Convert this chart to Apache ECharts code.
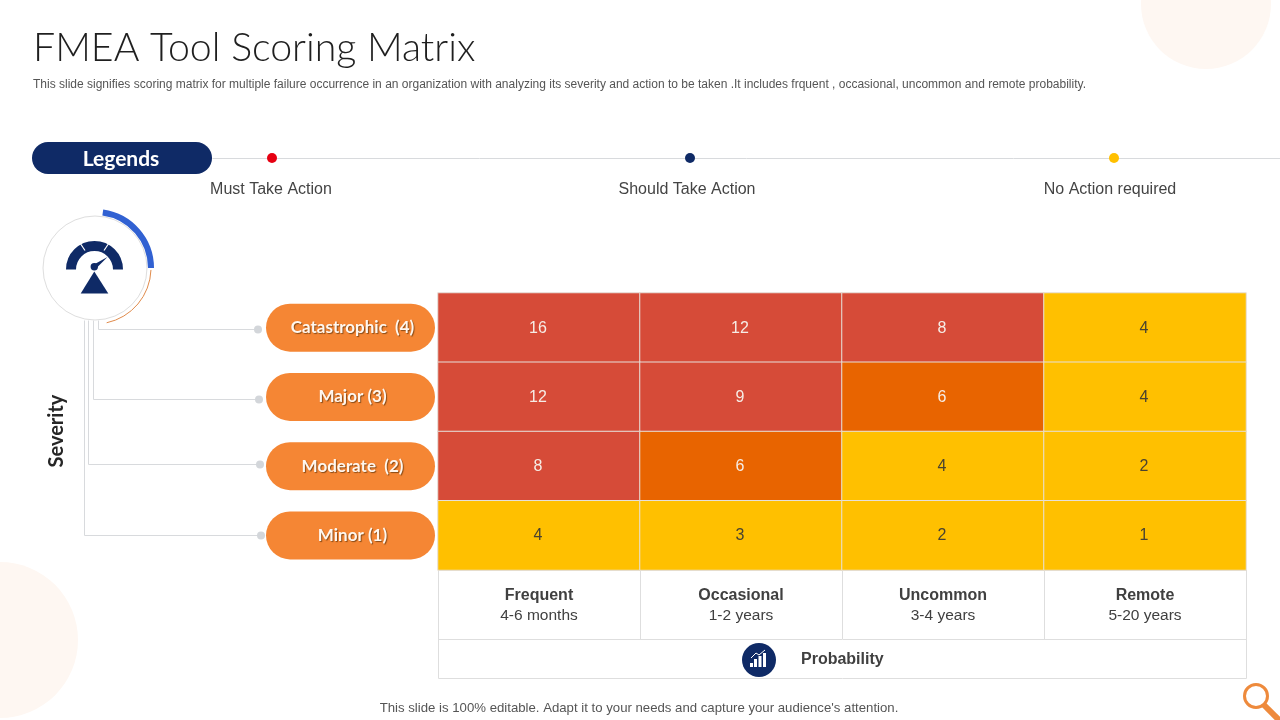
<!DOCTYPE html>
<html>
<head>
<meta charset="utf-8">
<title>FMEA Tool Scoring Matrix</title>
<style>
  html, body { margin: 0; padding: 0; background: #fff; }
  #chart { width: 1280px; height: 720px; }
</style>
<script src="https://cdn.jsdelivr.net/npm/echarts@6/dist/echarts.min.js"></script>
</head>
<body>
<div id="chart"></div>
<script>
// 数据
var severityLabels = ['Catastrophic  (4)', 'Major (3)', 'Moderate  (2)', 'Minor (1)'];
var probabilityLabels = ['Frequent', 'Occasional', 'Uncommon', 'Remote'];
var probabilityRanges = ['4-6 months', '1-2 years', '3-4 years', '5-20 years'];
var scoresCatastrophic = [16, 12, 8, 4];
var scoresMajor = [12, 9, 6, 4];
var scoresModerate = [8, 6, 4, 2];
var scoresMinor = [4, 3, 2, 1];
var legendLabels = ['Must Take Action', 'Should Take Action', 'No Action required'];

var navy = '#0F2A66';
var orange = '#F58634';
var lineColor = '#D8DADD';
var bodyFont = '"Liberation Sans", Arial, sans-serif';
var headFont = 'Lato, "Open Sans", sans-serif';

var cells = [];
[scoresCatastrophic, scoresMajor, scoresModerate, scoresMinor].forEach(function (row, y) {
    row.forEach(function (v, x) {
        cells.push({
            value: [x, y, v],
            label: { color: v > 4 ? '#F6EDE6' : '#4A4330' }
        });
    });
});

// 装饰图形
function line(x1, y1, x2, y2, color) {
    return { type: 'line', shape: { x1: x1 + 0.5, y1: y1 + 0.5, x2: x2 + 0.5, y2: y2 + 0.5 }, style: { stroke: color || lineColor, lineWidth: 1 } };
}
function dot(x, y, r, color) {
    return { type: 'circle', shape: { cx: x, cy: y, r: r }, style: { fill: color } };
}
function text(x, y, str, font, color, align) {
    return { type: 'text', x: x, y: y, style: { text: str, font: font, fill: color, align: align || 'center', verticalAlign: 'middle' } };
}
function arc(r, start, end, color, width) {
    return {
        type: 'arc',
        shape: { cx: 95, cy: 268, r: r, startAngle: start * Math.PI / 180, endAngle: end * Math.PI / 180 },
        style: { stroke: color, lineWidth: width, fill: null }
    };
}
function bar(x, top) {
    return { type: 'rect', shape: { x: x, y: top, width: 3, height: 667 - top }, style: { fill: '#fff' } };
}

var graphics = [
    // 背景圆
    dot(1206, 4, 65, '#FEF7F2'),
    dot(0, 640, 78, '#FEF7F2'),

    // 图例
    line(212, 158, 1280, 158),
    { type: 'rect', shape: { x: 32, y: 142, width: 180, height: 32, r: 16 }, style: { fill: navy } },
    text(121, 159, 'Legends', 'bold 21px ' + headFont, '#fff'),
    dot(272, 158, 5, '#E60012'),
    dot(690, 158, 5, navy),
    dot(1114, 158, 5, '#FFC000'),
    text(271, 190, legendLabels[0], '16px ' + bodyFont, '#444'),
    text(687, 190, legendLabels[1], '16px ' + bodyFont, '#444'),
    text(1110, 190, legendLabels[2], '16px ' + bodyFont, '#444'),

    // 连接线
    line(84, 320, 84, 535), line(84, 535, 261, 535),
    line(88, 320, 88, 464), line(88, 464, 260, 464),
    line(93, 320, 93, 399), line(93, 399, 259, 399),
    line(98, 320, 98, 329), line(98, 329, 258, 329),
    dot(258, 329.5, 4, '#D3D6DA'), dot(259, 399.5, 4, '#D3D6DA'),
    dot(260, 464.5, 4, '#D3D6DA'), dot(261, 535.5, 4, '#D3D6DA'),

    // 仪表图标
    { type: 'circle', shape: { cx: 95, cy: 268, r: 52 }, style: { fill: '#fff', stroke: '#DEDEDE', lineWidth: 1 } },
    arc(56, -82, 0, '#3161D2', 6),
    arc(56, 2, 78, '#E08B4C', 1),
    {
        type: 'arc',
        shape: { cx: 94.5, cy: 269.5, r: 23.5, startAngle: Math.PI, endAngle: Math.PI * 2 },
        style: { stroke: navy, lineWidth: 10, fill: null }
    },
    { type: 'line', shape: { x1: 80, y1: 243, x2: 85, y2: 250.5 }, style: { stroke: '#fff', lineWidth: 1.2 } },
    { type: 'line', shape: { x1: 109, y1: 243, x2: 104, y2: 250.5 }, style: { stroke: '#fff', lineWidth: 1.2 } },
    { type: 'polygon', shape: { points: [[94.3, 271.5], [80.7, 293.5], [108.3, 293.5]] }, style: { fill: navy } },
    { type: 'polygon', shape: { points: [[93, 265], [107.5, 257], [96, 268.5]] }, style: { fill: navy } },
    dot(94.3, 266.7, 3.7, navy),

    // Severity
    {
        type: 'text', x: 57, y: 431, rotation: Math.PI / 2,
        style: { text: 'Severity', font: 'bold 20px ' + headFont, fill: '#262626', align: 'center', verticalAlign: 'middle' }
    },

    // Probability 行
    { type: 'rect', z: -1, shape: { x: 438.5, y: 570.5, width: 808, height: 108 }, style: { fill: '#fff', stroke: '#DEDEDE', lineWidth: 1 } },
    line(438, 639, 1246, 639, '#DEDEDE'),
    dot(759, 660, 17, navy),
    bar(750, 663), bar(754, 659), bar(758.5, 656), bar(763, 653),
    { type: 'polyline', shape: { points: [[751, 658], [756, 653], [759, 655], [765, 650]] }, style: { stroke: '#fff', lineWidth: 1, fill: null } },
    text(801, 660, 'Probability', 'bold 16px ' + bodyFont, '#404040', 'left'),

    // 页脚
    text(639, 708, "This slide is 100% editable. Adapt it to your needs and capture your audience's attention.", '13.2px ' + bodyFont, '#555'),
    { type: 'circle', shape: { cx: 1256, cy: 696, r: 11.5 }, style: { fill: 'none', stroke: '#EE8A3C', lineWidth: 3 } },
    { type: 'line', shape: { x1: 1264, y1: 705, x2: 1282, y2: 723 }, style: { stroke: '#EE8A3C', lineWidth: 6 } }
];

var myChart = echarts.init(document.getElementById('chart'));
var option = {
    animation: false,
    backgroundColor: '#fff',
    title: {
        text: 'FMEA Tool Scoring Matrix',
        left: 28,
        top: 24,
        textStyle: { fontFamily: headFont, fontSize: 39.3, fontWeight: 300, color: '#1f1f1f' },
        subtext: 'This slide signifies scoring matrix for multiple failure occurrence in an organization with analyzing its severity and action to be taken .It includes frquent , occasional, uncommon and remote probability.',
        subtextStyle: { fontFamily: bodyFont, fontSize: 12, color: '#555' },
        itemGap: 11
    },
    grid: { left: 438, top: 293, width: 808, height: 277 },
    xAxis: {
        type: 'category',
        data: probabilityLabels,
        position: 'bottom',
        axisLine: { show: false },
        axisTick: { show: true, length: 69, lineStyle: { color: '#DEDEDE' } },
        splitArea: { show: false },
        axisLabel: {
            margin: 16,
            lineHeight: 20,
            formatter: function (v, i) {
                return '{name|' + v + '}\n{range|' + probabilityRanges[i] + '}';
            },
            rich: {
                name: { fontFamily: bodyFont, fontSize: 16, fontWeight: 'bold', color: '#404040', lineHeight: 20 },
                range: { fontFamily: bodyFont, fontSize: 15.5, color: '#404040', lineHeight: 20 }
            }
        }
    },
    yAxis: {
        type: 'category',
        data: severityLabels,
        inverse: true,
        axisLine: { show: false },
        axisTick: { show: false },
        axisLabel: {
            margin: 3,
            formatter: '{pill|{value}}',
            rich: {
                pill: {
                    width: 165,
                    height: 48,
                    padding: [0, 0, 0, 4],
                    align: 'center',
                    backgroundColor: orange,
                    borderRadius: 24,
                    fontFamily: headFont,
                    fontSize: 17,
                    fontWeight: 'bold',
                    color: '#FFF7EF',
                    textShadowColor: 'rgba(90,50,10,0.7)',
                    textShadowBlur: 1,
                    textShadowOffsetX: 1,
                    textShadowOffsetY: 1
                }
            }
        }
    },
    visualMap: {
        show: false,
        type: 'piecewise',
        dimension: 2,
        seriesIndex: 0,
        pieces: [
            { min: 7, color: '#D64B38' },
            { min: 5, max: 7, color: '#E86400' },
            { max: 5, color: '#FFC000' }
        ]
    },
    series: [{
        type: 'heatmap',
        data: cells,
        itemStyle: { borderColor: '#E6E0DA', borderWidth: 1 },
        label: { show: true, fontFamily: bodyFont, fontSize: 16, offset: [-1, 0.5] },
        emphasis: { disabled: true }
    }],
    graphic: { elements: graphics }
};
myChart.setOption(option);
</script>
</body>
</html>
